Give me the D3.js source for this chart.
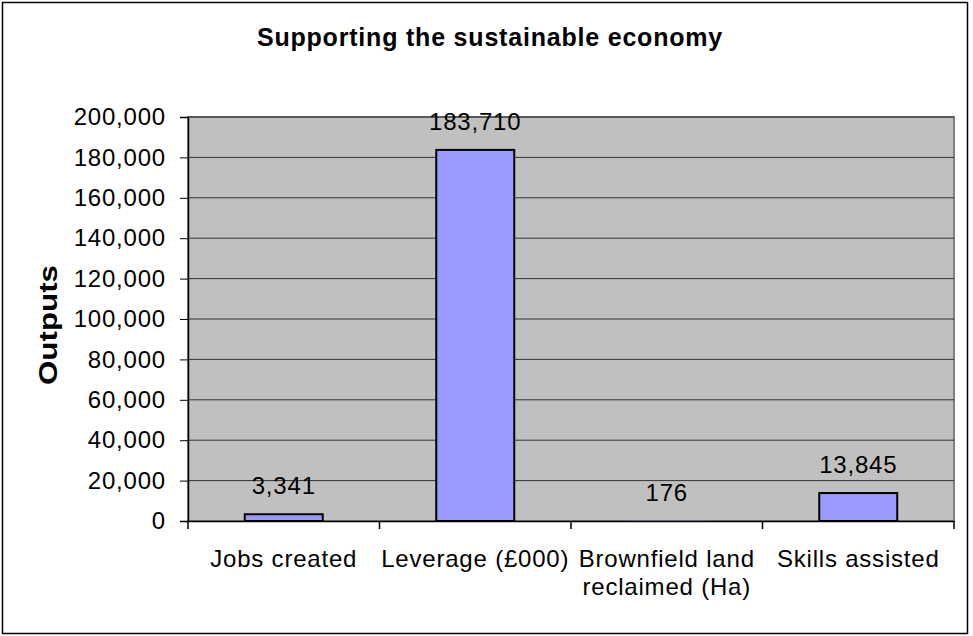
<!DOCTYPE html>
<html>
<head>
<meta charset="utf-8">
<script src="https://cdn.jsdelivr.net/npm/d3@7"></script>
<style>
  body { margin: 0; background: #fff; }
  text { font-family: "Liberation Sans", Arial, sans-serif; }
</style>
</head>
<body>
<div id="chart"></div>
<script>
const categories = [["Jobs created"], ["Leverage (£000)"], ["Brownfield land", "reclaimed (Ha)"], ["Skills assisted"]];
const values = [3341, 183710, 176, 13845];
const yTicks = [0, 20000, 40000, 60000, 80000, 100000, 120000, 140000, 160000, 180000, 200000];

const W = 973, H = 636;
const plot = { left: 188, top: 117, right: 954, bottom: 521 };

const svg = d3.select("#chart").append("svg")
  .attr("width", W).attr("height", H);

svg.append("rect")
  .attr("x", 2.5).attr("y", 2.5).attr("width", 965).attr("height", 631)
  .attr("fill", "#fff").attr("stroke", "#000").attr("stroke-width", 1.5);

const keys = categories.map((c) => c.join(" "));

const x = d3.scaleBand().domain(keys).range([plot.left, plot.right]);
const y = d3.scaleLinear().domain([0, 200000]).range([plot.bottom, plot.top]);

// plot area
svg.append("rect")
  .attr("x", plot.left).attr("y", plot.top)
  .attr("width", plot.right - plot.left).attr("height", plot.bottom - plot.top)
  .attr("fill", "#c0c0c0").attr("stroke", "#808080").attr("stroke-width", 2);

// gridlines
svg.append("g").selectAll("line").data(yTicks.filter((d) => d > 0)).join("line")
  .attr("x1", plot.left).attr("x2", plot.right)
  .attr("y1", (d) => y(d)).attr("y2", (d) => y(d))
  .attr("stroke", "#333").attr("stroke-width", 1);

// bars
const barW = 78;
svg.append("g").selectAll("rect").data(values).join("rect")
  .attr("x", (d, i) => x(keys[i]) + (x.bandwidth() - barW) / 2)
  .attr("y", (d) => y(d))
  .attr("width", barW)
  .attr("height", (d) => y(0) - y(d))
  .attr("fill", "#9999ff")
  .attr("stroke", (d) => (y(0) - y(d) < 2 ? "none" : "#000"))
  .attr("stroke-width", 2);

// y axis
const yAxis = svg.append("g")
  .attr("transform", `translate(${plot.left},0)`)
  .call(d3.axisLeft(y).tickValues(yTicks).tickSize(8).tickPadding(14).tickFormat(d3.format(",")));
yAxis.select(".domain").attr("stroke", "#000").attr("stroke-width", 1.5);
yAxis.selectAll(".tick line").attr("stroke", "#000");
yAxis.selectAll(".tick text").attr("font-size", 24).attr("fill", "#000")
  .attr("letter-spacing", 0.8)
  .style("font-family", "Liberation Sans, Arial, sans-serif");

// x axis
const xAxis = svg.append("g")
  .attr("transform", `translate(0,${plot.bottom})`)
  .call(d3.axisBottom(x).tickSize(0).tickFormat(""));
xAxis.select(".domain").attr("stroke", "#000").attr("stroke-width", 1.5);
xAxis.selectAll(".tick").remove();

// category separator ticks
const bounds = keys.map((k) => x(k)).concat([plot.right]);
svg.append("g").selectAll("line").data(bounds).join("line")
  .attr("x1", (d) => d).attr("x2", (d) => d)
  .attr("y1", plot.bottom).attr("y2", plot.bottom + 8)
  .attr("stroke", "#000").attr("stroke-width", 1.5);

// category labels
const catG = svg.append("g").selectAll("text").data(categories).join("text")
  .attr("x", (d) => x(d.join(" ")) + x.bandwidth() / 2)
  .attr("y", plot.bottom + 46)
  .attr("text-anchor", "middle")
  .attr("font-size", 24)
  .attr("letter-spacing", 0.8)
  .attr("fill", "#000");
catG.selectAll("tspan").data((d) => d).join("tspan")
  .attr("x", function () { return d3.select(this.parentNode).attr("x"); })
  .attr("dy", (d, i) => (i === 0 ? 0 : 28))
  .text((d) => d);

// value labels
svg.append("g").selectAll("text").data(values).join("text")
  .attr("x", (d, i) => x(keys[i]) + x.bandwidth() / 2)
  .attr("y", (d) => y(d) - 20)
  .attr("text-anchor", "middle")
  .attr("font-size", 24)
  .attr("letter-spacing", 0.8)
  .attr("fill", "#000")
  .text((d) => d3.format(",")(d));

// title
svg.append("text")
  .attr("x", 490).attr("y", 46)
  .attr("text-anchor", "middle")
  .attr("font-size", 25).attr("font-weight", "bold")
  .attr("letter-spacing", 0.8)
  .text("Supporting the sustainable economy");

// y axis title
svg.append("text")
  .attr("transform", `translate(57,325) rotate(-90)`)
  .attr("text-anchor", "middle")
  .attr("font-size", 26).attr("font-weight", "bold")
  .attr("textLength", 120).attr("lengthAdjust", "spacingAndGlyphs")
  .text("Outputs");
</script>
</body>
</html>
